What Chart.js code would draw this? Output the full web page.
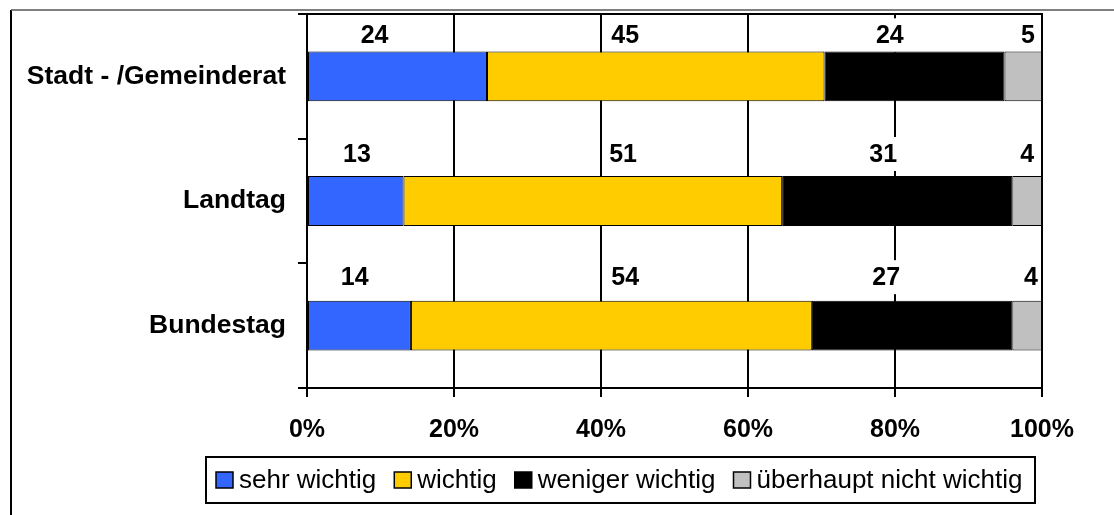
<!DOCTYPE html>
<html><head><meta charset="utf-8">
<script src="https://cdn.jsdelivr.net/npm/chart.js@4.4.0/dist/chart.umd.min.js"></script>
<style>html,body{margin:0;padding:0;background:#fff;overflow:hidden}#wrap{position:relative;width:1114px;height:515px}canvas{display:block}</style>
</head><body><div id="wrap"><canvas id="c" width="1114" height="515"></canvas></div>
<script>
// ---- data ----
const categories = ['Stadt - /Gemeinderat', 'Landtag', 'Bundestag'];
const seriesNames = ['sehr wichtig', 'wichtig', 'weniger wichtig', 'überhaupt nicht wichtig'];
const sehrWichtig = [24, 13, 14];
const wichtig = [45, 51, 54];
const wenigerWichtig = [24, 31, 27];
const ueberhauptNichtWichtig = [5, 4, 4];
const xTickValues = [0, 20, 40, 60, 80, 100];
const seriesColors = ['#3366FF', '#FFCC00', '#000000', '#C0C0C0'];

const raw = [sehrWichtig, wichtig, wenigerWichtig, ueberhauptNichtWichtig];
const totals = categories.map((_, i) => raw.reduce((s, arr) => s + arr[i], 0));
const pct = raw.map(arr => arr.map((v, i) => v / totals[i] * 100));

const FONT = "'Liberation Sans', Arial, Helvetica, sans-serif";
Chart.defaults.font.family = FONT;
Chart.defaults.color = '#000';

// value labels (placed in fixed columns, like the original text boxes)
const valueLabels = {
  id: 'valueLabels',
  beforeDatasetsDraw(chart, args, opts) {
    const ctx = chart.ctx, xs = chart.scales.x;
    ctx.save();
    ctx.font = 'bold 25px ' + FONT;
    ctx.textAlign = 'center';
    ctx.textBaseline = 'middle';
    chart.data.datasets.forEach((ds, di) => {
      chart.getDatasetMeta(di).data.forEach((bar, ri) => {
        const text = String(ds.rawValues[ri]);
        const x = xs.getPixelForValue(opts.anchors[ri][di]);
        const y = bar.y + opts.rowOffsets[ri];
        const w = ctx.measureText(text).width + 6;
        ctx.fillStyle = '#fff';
        ctx.fillRect(x - w / 2, y - 17, w, 34);
        ctx.fillStyle = '#000';
        ctx.fillText(text, x, y + 1);
      });
    });
    ctx.restore();
  }
};

// outer frame + boxed legend
const frameLegend = {
  id: 'frameLegend',
  afterDraw(chart, args, opts) {
    const ctx = chart.ctx;
    ctx.save();
    ctx.strokeStyle = '#000';
    ctx.lineWidth = 2;
    ctx.beginPath(); ctx.moveTo(11, 515); ctx.lineTo(11, 10); ctx.stroke();
    ctx.strokeStyle = '#555';
    ctx.lineWidth = 1.5;
    ctx.beginPath(); ctx.moveTo(11, 10); ctx.lineTo(1114, 10); ctx.stroke();
    ctx.font = '26px ' + FONT;
    ctx.textBaseline = 'middle';
    ctx.textAlign = 'left';
    const box = opts.box;
    ctx.fillStyle = '#fff';
    ctx.fillRect(box.x, box.y, box.w, box.h);
    ctx.strokeStyle = '#000';
    ctx.lineWidth = 2;
    ctx.strokeRect(box.x, box.y, box.w, box.h);
    let x = opts.startX;
    const cy = box.y + box.h / 2;
    chart.data.datasets.forEach((ds) => {
      ctx.fillStyle = ds.backgroundColor;
      ctx.fillRect(x, cy - 8, 17, 16);
      ctx.lineWidth = 1.5;
      ctx.strokeStyle = '#000';
      ctx.strokeRect(x, cy - 8, 17, 16);
      ctx.fillStyle = '#000';
      ctx.fillText(ds.label, x + 23, cy + 1);
      x += 23 + ctx.measureText(ds.label).width + 18;
    });
    ctx.restore();
  }
};

new Chart(document.getElementById('c'), {
  type: 'bar',
  data: {
    labels: categories,
    datasets: seriesNames.map((n, i) => ({
      label: n,
      data: pct[i],
      rawValues: raw[i],
      backgroundColor: seriesColors[i],
      borderColor: '#000',
      borderWidth: 1,
      borderSkipped: false,
      barPercentage: 0.4,
      categoryPercentage: 1
    }))
  },
  options: {
    indexAxis: 'y',
    responsive: false,
    animation: false,
    devicePixelRatio: 1,
    layout: { padding: { left: 0, top: 14, right: 72, bottom: 67 } },
    plugins: {
      legend: { display: false },
      tooltip: { enabled: false },
      valueLabels: {
        anchors: [[9.2, 43.3, 79.3, 98.1], [6.8, 43.0, 78.4, 98.0], [6.5, 43.3, 78.8, 98.5]],
        rowOffsets: [-41, -47, -48.5]
      },
      frameLegend: {
        box: { x: 206, y: 457, w: 829, h: 46 },
        startX: 216
      }
    },
    scales: {
      x: {
        type: 'linear', stacked: true, min: 0, max: 100, position: 'bottom',
        afterBuildTicks: s => { s.ticks = xTickValues.map(v => ({ value: v })); },
        ticks: { callback: v => v + '%', font: { size: 25, weight: 'bold' }, padding: 18, color: '#000', maxRotation: 0, autoSkip: false },
        grid: { color: '#000', lineWidth: 2, tickLength: 9, drawTicks: true },
        border: { color: '#000', width: 2 },
        afterFit: s => { s.height = 60; s.paddingLeft = 0; s.paddingRight = 0; }
      },
      x2: {
        type: 'linear', position: 'top', min: 0, max: 100,
        ticks: { display: false },
        grid: { display: false, drawTicks: false },
        border: { display: true, color: '#000', width: 2 },
        afterFit: s => { s.height = 0; s.paddingLeft = 0; s.paddingRight = 0; }
      },
      y: {
        type: 'category', stacked: true,
        grid: { offset: true, drawOnChartArea: false, color: '#000', lineWidth: 2, tickLength: 9 },
        border: { color: '#000', width: 2 },
        ticks: { font: { size: 26.5, weight: 'bold' }, padding: 12, color: '#000' },
        afterFit: s => { s.width = 307; s.paddingTop = 0; s.paddingBottom = 0; }
      }
    }
  },
  plugins: [valueLabels, frameLegend]
});
</script>
</body></html>
